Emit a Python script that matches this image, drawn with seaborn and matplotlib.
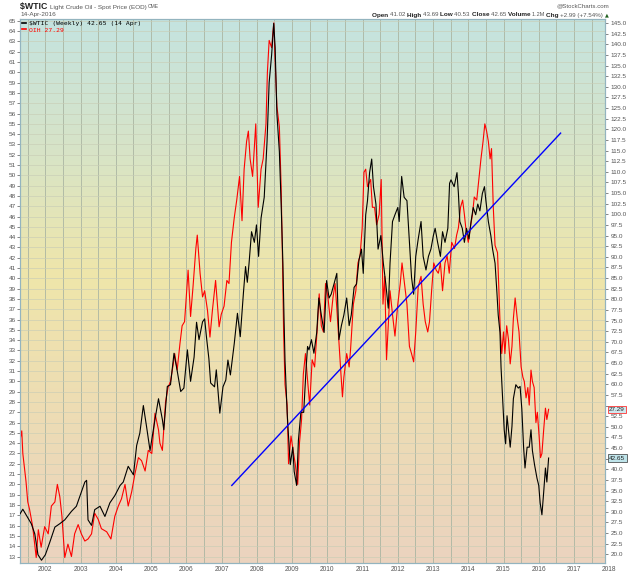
import numpy as np
import matplotlib
matplotlib.use("Agg")
import matplotlib.pyplot as plt
import seaborn as sns
from matplotlib.colors import LinearSegmentedColormap
from matplotlib.lines import Line2D

plt.rcParams['font.family'] = ['Liberation Sans', 'DejaVu Sans']

# $WTIC weekly close (right scale), decimal year
wtic_t = [2001.28, 2001.36, 2001.50, 2001.60, 2001.70, 2001.79, 2001.89, 2002.00, 2002.12, 2002.27,
          2002.41, 2002.55, 2002.74, 2002.88, 2003.02, 2003.12, 2003.17, 2003.21, 2003.31, 2003.40,
          2003.55, 2003.69, 2003.83, 2003.97, 2004.12, 2004.21, 2004.35, 2004.50, 2004.59, 2004.68,
          2004.78, 2004.87, 2004.97, 2005.11, 2005.21, 2005.32, 2005.36, 2005.46, 2005.55, 2005.65,
          2005.74, 2005.84, 2005.93, 2006.03, 2006.12, 2006.22, 2006.29, 2006.36, 2006.46, 2006.52,
          2006.57, 2006.64, 2006.69, 2006.80, 2006.85, 2006.95, 2007.04, 2007.12, 2007.18, 2007.25,
          2007.36, 2007.45, 2007.53, 2007.62, 2007.68, 2007.73, 2007.78, 2007.85, 2007.93, 2007.99,
          2008.05, 2008.12, 2008.21, 2008.29, 2008.35, 2008.42, 2008.48, 2008.52, 2008.57, 2008.64,
          2008.69, 2008.74, 2008.77, 2008.80, 2008.86, 2008.90, 2008.95, 2009.02, 2009.06, 2009.13,
          2009.18, 2009.25, 2009.33, 2009.40, 2009.44, 2009.48, 2009.55, 2009.62, 2009.70, 2009.76,
          2009.83, 2009.91, 2009.98, 2010.05, 2010.11, 2010.19, 2010.27, 2010.33, 2010.40, 2010.47,
          2010.55, 2010.62, 2010.68, 2010.76, 2010.83, 2010.90, 2010.97, 2011.02, 2011.09, 2011.14,
          2011.20, 2011.26, 2011.31, 2011.38, 2011.44, 2011.52, 2011.59, 2011.66, 2011.73, 2011.78,
          2011.85, 2011.92, 2012.00, 2012.04, 2012.11, 2012.18, 2012.26, 2012.33, 2012.39, 2012.45,
          2012.51, 2012.58, 2012.66, 2012.72, 2012.80, 2012.87, 2012.94, 2013.01, 2013.06, 2013.13,
          2013.21, 2013.27, 2013.34, 2013.42, 2013.47, 2013.51, 2013.60, 2013.68, 2013.72, 2013.76,
          2013.83, 2013.89, 2013.95, 2014.02, 2014.08, 2014.14, 2014.21, 2014.27, 2014.33, 2014.40,
          2014.46, 2014.50, 2014.57, 2014.64, 2014.69, 2014.76, 2014.81, 2014.85, 2014.90, 2014.93,
          2014.97, 2015.02, 2015.06, 2015.10, 2015.14, 2015.19, 2015.24, 2015.28, 2015.35, 2015.42,
          2015.47, 2015.52, 2015.57, 2015.61, 2015.67, 2015.73, 2015.78, 2015.82, 2015.88, 2015.95,
          2016.00, 2016.04, 2016.09, 2016.14, 2016.19, 2016.23, 2016.28]
wtic_v = [29.5, 30.6, 28.6, 27.2, 24.8, 19.9, 18.6, 19.9, 22.7, 26.4,
          27.2, 28.1, 30.1, 31.3, 34.6, 37.0, 37.4, 28.1, 26.8, 30.5,
          31.3, 28.9, 32.1, 33.8, 36.2, 37.0, 40.7, 38.7, 45.6, 48.5,
          55.0, 50.1, 44.4, 51.7, 56.6, 51.7, 49.3, 59.5, 59.9, 67.3,
          63.2, 58.3, 59.1, 68.1, 60.7, 66.4, 74.6, 70.5, 74.7, 75.4,
          71.2, 66.0, 60.3, 59.4, 63.4, 53.2, 59.4, 61.0, 65.7, 62.2,
          69.6, 76.7, 71.2, 81.5, 87.7, 84.0, 88.5, 95.9, 93.4, 97.5,
          90.1, 99.1, 104.0, 117.1, 131.0, 137.5, 144.9, 139.2, 123.6, 114.7,
          102.4, 88.5, 76.3, 65.6, 53.4, 47.7, 41.1, 45.2, 39.5, 36.2,
          46.8, 53.4, 53.4, 64.0, 68.9, 68.1, 70.5, 67.3, 72.2, 80.3,
          76.3, 72.2, 84.4, 80.3, 81.2, 83.6, 86.1, 70.5, 73.8, 76.3,
          80.3, 73.8, 76.3, 82.8, 83.6, 89.3, 91.8, 86.1, 99.9, 103.2,
          109.8, 113.0, 106.5, 102.4, 91.8, 95.0, 88.5, 83.6, 77.9, 88.5,
          98.3, 99.9, 101.6, 98.3, 108.9, 104.0, 103.2, 93.4, 85.2, 81.2,
          90.1, 94.2, 98.3, 90.1, 86.9, 90.1, 91.8, 95.0, 96.7, 93.4,
          90.1, 95.9, 93.4, 96.7, 107.3, 108.1, 106.5, 109.8, 104.9, 98.3,
          96.7, 93.4, 96.7, 94.2, 98.3, 101.6, 99.9, 102.4, 100.8, 104.9,
          106.5, 103.2, 98.3, 95.0, 91.8, 88.5, 82.0, 76.3, 72.2, 64.0,
          57.5, 49.3, 46.0, 52.6, 49.3, 45.2, 50.1, 56.6, 59.9, 59.1,
          59.5, 54.2, 45.2, 40.3, 45.2, 45.2, 49.3, 44.4, 41.1, 37.9,
          36.2, 32.1, 29.3, 34.6, 40.3, 37.0, 42.65]

# OIH weekly close (left scale)
oih_t = [2001.28, 2001.33, 2001.36, 2001.45, 2001.50, 2001.55, 2001.64, 2001.74, 2001.80, 2001.88,
         2001.98, 2002.08, 2002.17, 2002.27, 2002.34, 2002.41, 2002.47, 2002.55, 2002.64, 2002.74,
         2002.83, 2002.93, 2003.02, 2003.12, 2003.21, 2003.31, 2003.40, 2003.50, 2003.59, 2003.74,
         2003.86, 2003.97, 2004.07, 2004.16, 2004.26, 2004.35, 2004.45, 2004.54, 2004.64, 2004.73,
         2004.83, 2004.92, 2005.02, 2005.11, 2005.21, 2005.25, 2005.32, 2005.41, 2005.48, 2005.55,
         2005.63, 2005.67, 2005.74, 2005.82, 2005.88, 2005.95, 2006.05, 2006.12, 2006.19, 2006.27,
         2006.31, 2006.39, 2006.46, 2006.52, 2006.60, 2006.67, 2006.74, 2006.83, 2006.93, 2006.99,
         2007.07, 2007.15, 2007.21, 2007.28, 2007.36, 2007.43, 2007.51, 2007.58, 2007.64, 2007.71,
         2007.76, 2007.81, 2007.88, 2007.97, 2008.04, 2008.12, 2008.18, 2008.26, 2008.30, 2008.35,
         2008.42, 2008.48, 2008.52, 2008.57, 2008.64, 2008.69, 2008.73, 2008.76, 2008.80, 2008.86,
         2008.90, 2008.97, 2009.03, 2009.09, 2009.16, 2009.21, 2009.27, 2009.32, 2009.38, 2009.45,
         2009.50, 2009.57, 2009.64, 2009.72, 2009.77, 2009.83, 2009.89, 2009.95, 2010.02, 2010.09,
         2010.16, 2010.22, 2010.27, 2010.33, 2010.38, 2010.43, 2010.47, 2010.55, 2010.62, 2010.66,
         2010.74, 2010.81, 2010.87, 2010.93, 2010.99, 2011.04, 2011.09, 2011.14, 2011.19, 2011.23,
         2011.28, 2011.34, 2011.40, 2011.47, 2011.53, 2011.58, 2011.63, 2011.68, 2011.72, 2011.78,
         2011.85, 2011.92, 2012.00, 2012.07, 2012.12, 2012.19, 2012.26, 2012.33, 2012.39, 2012.45,
         2012.51, 2012.58, 2012.66, 2012.72, 2012.78, 2012.85, 2012.90, 2012.96, 2013.02, 2013.09,
         2013.15, 2013.21, 2013.27, 2013.34, 2013.40, 2013.46, 2013.53, 2013.61, 2013.67, 2013.72,
         2013.78, 2013.84, 2013.89, 2013.93, 2014.00, 2014.07, 2014.12, 2014.17, 2014.24, 2014.30,
         2014.36, 2014.42, 2014.47, 2014.52, 2014.57, 2014.62, 2014.66, 2014.71, 2014.76, 2014.83,
         2014.87, 2014.91, 2014.95, 2015.00, 2015.04, 2015.09, 2015.14, 2015.19, 2015.24, 2015.28,
         2015.33, 2015.39, 2015.44, 2015.50, 2015.55, 2015.59, 2015.64, 2015.69, 2015.73, 2015.78,
         2015.82, 2015.87, 2015.92, 2015.96, 2016.01, 2016.05, 2016.09, 2016.14, 2016.19, 2016.23,
         2016.28]
oih_v = [24.3, 25.2, 23.0, 20.3, 18.3, 17.6, 15.9, 12.9, 15.6, 13.9,
         15.9, 15.2, 17.9, 18.3, 20.0, 18.8, 16.9, 12.9, 14.2, 13.0,
         15.2, 16.1, 15.2, 14.5, 14.7, 15.2, 17.2, 16.6, 15.7, 15.4,
         14.7, 16.9, 17.9, 18.6, 20.0, 17.9, 19.3, 21.0, 22.6, 22.3,
         21.3, 23.3, 23.0, 26.9, 25.3, 24.0, 23.3, 28.0, 29.4, 30.0,
         31.7, 32.7, 31.1, 33.7, 35.4, 35.8, 40.8, 36.3, 39.2, 42.9,
         44.2, 40.5, 38.2, 38.8, 36.9, 34.3, 36.9, 39.8, 35.3, 36.5,
         37.3, 39.8, 39.5, 43.5, 45.9, 47.6, 49.9, 45.6, 50.6, 53.3,
         54.3, 51.6, 49.9, 55.0, 46.9, 50.6, 51.6, 55.0, 60.0, 63.1,
         62.4, 64.8, 61.1, 56.7, 54.7, 48.9, 41.5, 34.8, 29.7, 27.7,
         22.0, 24.7, 23.3, 22.0, 20.0, 24.0, 26.3, 30.7, 32.7, 29.7,
         27.7, 32.1, 31.4, 35.4, 38.5, 35.4, 34.8, 39.5, 38.1, 35.8,
         38.1, 39.5, 37.1, 33.8, 31.1, 28.5, 30.4, 32.7, 31.4, 33.1,
         37.5, 38.8, 41.5, 42.2, 44.9, 50.3, 50.6, 48.9, 49.3, 49.6,
         46.9, 46.9, 45.2, 46.2, 49.6, 37.5, 40.2, 32.1, 34.8, 38.8,
         36.5, 34.4, 37.5, 39.5, 41.5, 39.5, 37.5, 33.4, 32.7, 31.9,
         34.8, 39.2, 40.2, 37.5, 35.8, 34.8, 35.8, 38.8, 41.5, 40.8,
         40.5, 41.5, 38.8, 41.5, 42.2, 40.5, 43.5, 42.9, 44.2, 44.9,
         46.9, 47.6, 46.2, 44.9, 43.5, 45.2, 46.2, 47.9, 47.6, 49.6,
         51.6, 53.3, 55.0, 54.3, 53.3, 51.6, 52.6, 46.9, 43.2, 42.5,
         38.8, 34.8, 32.7, 34.8, 32.7, 35.4, 34.1, 31.7, 33.4, 36.1,
         38.1, 36.1, 34.8, 31.4, 30.4, 30.0, 28.4, 29.4, 27.7, 31.1,
         30.0, 29.4, 26.0, 27.0, 24.7, 22.6, 23.0, 25.3, 27.4, 26.3,
         27.29]

# hand-drawn trend line (right scale)
trend_t = [2007.29, 2016.62]
trend_v = [36.2, 119.1]

years = list(range(2002, 2019))
left_ticks = list(range(13, 66))
right_ticks = list(np.arange(20.0, 145.1, 2.5))

W, H = 640, 576
X0, X1 = 2001.28, 2017.88
fig = plt.figure(figsize=(W / 100, H / 100), dpi=100)
left, right, top, bottom = 20, 605, 19, 563
ax = fig.add_axes([left / W, 1 - bottom / H, (right - left) / W, (bottom - top) / H])

ylo, yhi = 12.37, 65.18
cmap = LinearSegmentedColormap.from_list(
    'sc', [(0.0, '#c4e3e0'), (0.25, '#d8e4c6'), (0.47, '#efe6aa'),
           (0.62, '#eee0b0'), (1.0, '#ebd3bf')])
grad = np.linspace(0, 1, 256).reshape(-1, 1)
ax.imshow(grad, extent=[X0, X1, ylo, yhi], aspect='auto', cmap=cmap,
          zorder=0, interpolation='bicubic', origin='upper')

sns.lineplot(x=oih_t, y=oih_v, ax=ax, color='#ff0000', linewidth=0.8,
             estimator=None, sort=False, zorder=3)
ax.set_xlim(X0, X1)
ax.set_ylim(ylo, yhi)
ax.set_xticks([y for y in years if y <= X1])
ax.set_xticks([y + 0.5 for y in years if y + 0.5 <= X1] + [2001.5], minor=True)
ax.set_xticklabels([])
ax.set_yticks(left_ticks)
ax.set_yticklabels([str(v) for v in left_ticks])
ax.grid(which='both', axis='x', color='#aab5a2', linewidth=0.6, zorder=1)
ax.grid(which='major', axis='y', color='#c9cdb6', linewidth=0.45, zorder=1)
ax.tick_params(axis='x', which='both', length=0)
ax.tick_params(axis='y', labelsize=4.6, length=2, width=0.5, pad=1,
               colors='#555555')
ax.set_xlabel('')
ax.set_ylabel('')
for yr in years:
    ax.text(yr, -0.005, str(yr), transform=ax.get_xaxis_transform(),
            ha='center', va='top', fontsize=4.8, color='#555555', clip_on=False)

ax2 = ax.twinx()
sns.lineplot(x=wtic_t, y=wtic_v, ax=ax2, color='#000000', linewidth=0.8,
             estimator=None, sort=False, zorder=3)
sns.lineplot(x=trend_t, y=trend_v, ax=ax2, color='#0000ff', linewidth=1.0,
             estimator=None, sort=False, zorder=4)
ax2.set_xlim(X0, X1)
ax2.set_ylim(17.95, 145.95)
ax2.set_yticks(right_ticks)
ax2.set_yticklabels(['%.1f' % v for v in right_ticks])
ax2.tick_params(axis='y', labelsize=4.6, length=2, width=0.5, pad=2,
                colors='#555555')
ax2.set_ylabel('')

for a in (ax, ax2):
    for s in a.spines.values():
        s.set_color('#93b4bf')
        s.set_linewidth(0.8)

# last value markers on the right edge
ax2.annotate('42.65', xy=(1.0, 42.65), xycoords=('axes fraction', 'data'),
             xytext=(3, 0), textcoords='offset points', ha='left', va='center',
             fontsize=4.6, color='#222222', zorder=10,
             bbox=dict(boxstyle='square,pad=0.2', fc='#bfe4ea', ec='#333333', lw=0.5))
ax.annotate('27.29', xy=(1.0, 27.29), xycoords=('axes fraction', 'data'),
            xytext=(3, 0), textcoords='offset points', ha='left', va='center',
            fontsize=4.6, color='#222222', zorder=10,
            bbox=dict(boxstyle='square,pad=0.2', fc='#cfe8ee', ec='#ff3333', lw=0.6))

# the markers cover these tick labels
for lab, v in zip(ax2.get_yticklabels(), right_ticks):
    if abs(v - 42.5) < 0.1 or abs(v - 55.0) < 0.1:
        lab.set_visible(False)

ax2.legend(handles=[Line2D([], [], color='black', lw=1.2),
                    Line2D([], [], color='red', lw=1.2)],
           labels=['$WTIC (Weekly) 42.65 (14 Apr)', 'OIH 27.29'],
           loc='upper left', bbox_to_anchor=(0.0, 1.0), frameon=False,
           prop={'family': 'DejaVu Sans Mono', 'size': 4.6},
           handlelength=0.7, handletextpad=0.4, labelspacing=0.15,
           borderaxespad=0.15, borderpad=0.1, labelcolor=['black', 'red'])

# header
renderer = fig.canvas.get_renderer()


def row(pieces, x, y, align='left'):
    objs = []
    widths = []
    for s, kw in pieces:
        t = fig.text(0, 1 - y / H, s, va='center', **kw)
        widths.append(t.get_window_extent(renderer).width)
        objs.append(t)
    cur = x if align == 'left' else x - sum(widths)
    for t, w in zip(objs, widths):
        t.set_x(cur / W)
        cur += w


gray = '#555555'
row([('$WTIC ', dict(fontsize=6.3, fontweight='bold', color='#222222')),
     ('Light Crude Oil - Spot Price (EOD) ', dict(fontsize=4.6, color=gray)),
     ('CME', dict(fontsize=3.6, color=gray))], 20, 7)
fig.text(20 / W, 1 - 14.5 / H, '14-Apr-2016', fontsize=4.6, color=gray, va='center')
row([('@StockCharts.com', dict(fontsize=4.4, color=gray))], 609, 6, align='right')
row([('Open ', dict(fontsize=4.6, fontweight='bold', color='#222222')),
     ('41.02 ', dict(fontsize=4.4, color=gray)),
     ('High ', dict(fontsize=4.6, fontweight='bold', color='#222222')),
     ('43.69 ', dict(fontsize=4.4, color=gray)),
     ('Low ', dict(fontsize=4.6, fontweight='bold', color='#222222')),
     ('40.53 ', dict(fontsize=4.4, color=gray)),
     ('Close ', dict(fontsize=4.6, fontweight='bold', color='#222222')),
     ('42.65 ', dict(fontsize=4.4, color=gray)),
     ('Volume ', dict(fontsize=4.6, fontweight='bold', color='#222222')),
     ('1.2M ', dict(fontsize=4.0, color=gray)),
     ('Chg ', dict(fontsize=4.6, fontweight='bold', color='#222222')),
     ('+2.99 (+7.54%) ', dict(fontsize=4.4, color=gray)),
     ('\u25b2', dict(fontsize=3.6, color='#1d5e1d', family=['DejaVu Sans']))], 609, 15, align='right')

fig.savefig('out.png', dpi=100)
